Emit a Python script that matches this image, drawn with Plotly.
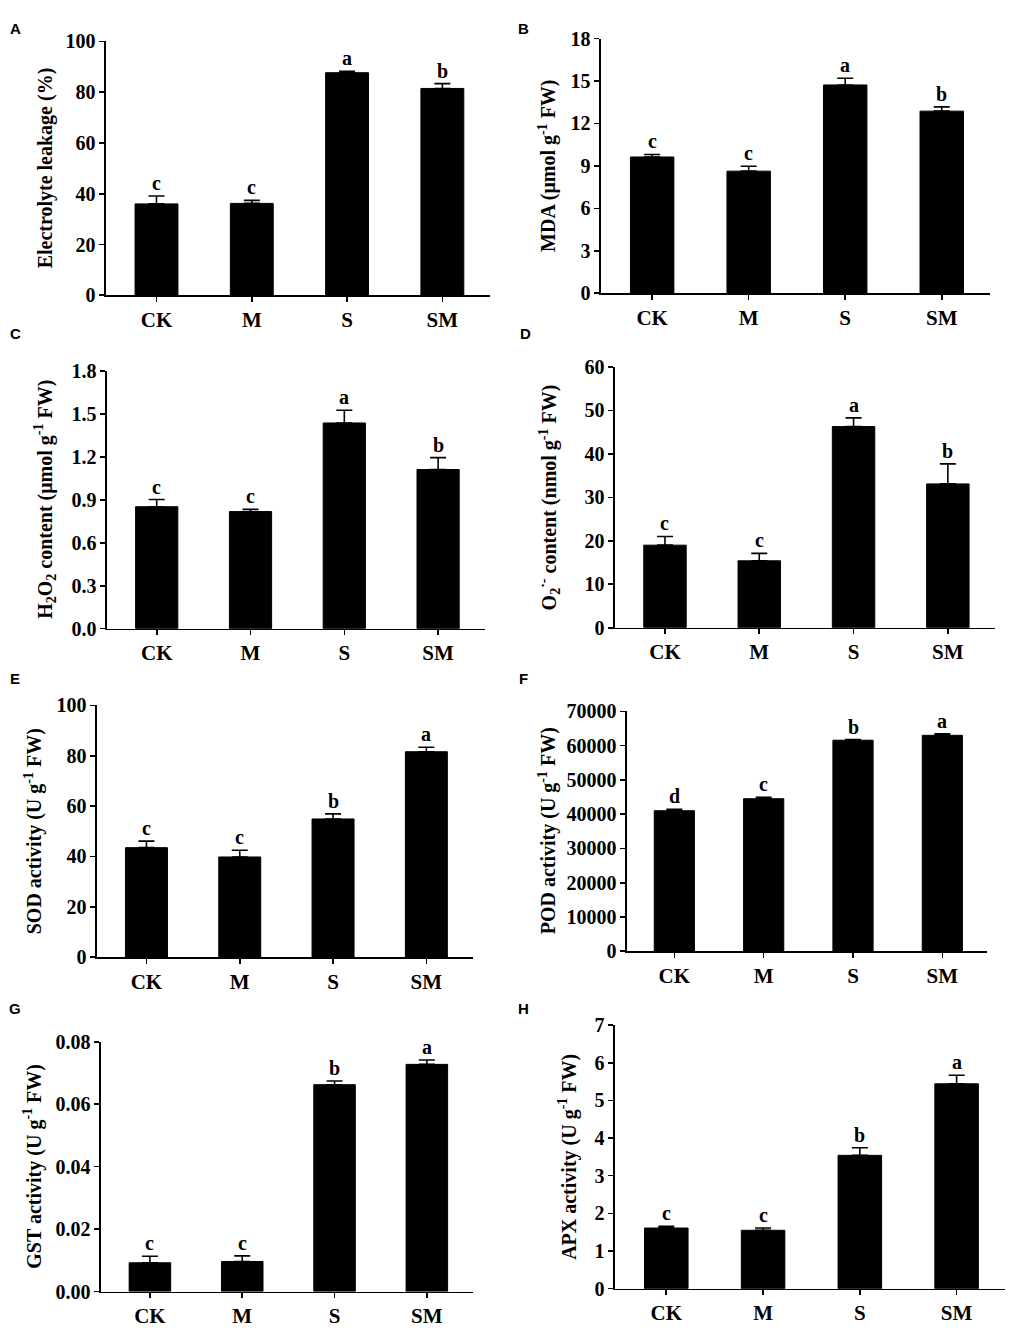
import plotly.graph_objects as go

# Traitements
categories = ["CK", "M", "S", "SM"]

# Valeurs (moyenne, erreur type, lettres)
electrolyte = [36.0, 36.2, 87.7, 81.5]
electrolyte_err = [3.1, 1.2, 0.6, 1.9]
electrolyte_let = ["c", "c", "a", "b"]

mda = [9.63, 8.63, 14.72, 12.87]
mda_err = [0.18, 0.35, 0.47, 0.30]
mda_let = ["c", "c", "a", "b"]

h2o2 = [0.852, 0.818, 1.437, 1.112]
h2o2_err = [0.050, 0.016, 0.089, 0.083]
h2o2_let = ["c", "c", "a", "b"]

o2 = [19.0, 15.4, 46.3, 33.1]
o2_err = [2.0, 1.7, 2.0, 4.6]
o2_let = ["c", "c", "a", "b"]

sod = [43.5, 39.8, 54.9, 81.6]
sod_err = [2.6, 2.7, 2.0, 1.8]
sod_let = ["c", "c", "b", "a"]

pod = [41000, 44500, 61570, 63000]
pod_err = [400, 400, 200, 450]
pod_let = ["d", "c", "b", "a"]

gst = [0.00923, 0.00965, 0.06626, 0.07277]
gst_err = [0.0021, 0.0018, 0.0012, 0.0014]
gst_let = ["c", "c", "b", "a"]

apx = [1.61, 1.55, 3.54, 5.44]
apx_err = [0.044, 0.06, 0.20, 0.227]
apx_let = ["c", "c", "b", "a"]

# Graduations
ticks_a = [0, 20, 40, 60, 80, 100]
ticks_b = [0, 3, 6, 9, 12, 15, 18]
ticks_c = [0.0, 0.3, 0.6, 0.9, 1.2, 1.5, 1.8]
ticks_d = [0, 10, 20, 30, 40, 50, 60]
ticks_e = [0, 20, 40, 60, 80, 100]
ticks_f = [0, 10000, 20000, 30000, 40000, 50000, 60000, 70000]
ticks_g = [0.00, 0.02, 0.04, 0.06, 0.08]
ticks_h = [0, 1, 2, 3, 4, 5, 6, 7]

W, H = 1011, 1339
SERIF = "Liberation Serif"
XFONT = dict(family=SERIF, size=21, color="black", weight="bold")
YFONT = dict(family=SERIF, size=20, color="black", weight="bold")

# (lettre, titre, valeurs, erreurs, lettres, ticks, format, x0, x1, ytop, ybas, x titre, x/y lettre)
panels = [
    ("A", "Electrolyte leakage (%)", electrolyte, electrolyte_err, electrolyte_let, ticks_a, "d",
     106, 490, 31, 289, 45, 15, 18),
    ("B", "MDA (μmol g<sup>-1</sup> FW)", mda, mda_err, mda_let, ticks_b, "d",
     601, 990, 28, 287, 548, 523, 18),
    ("C", "H<sub>2</sub>O<sub>2</sub> content (μmol g<sup>-1</sup> FW)", h2o2, h2o2_err, h2o2_let, ticks_c, ".1f",
     107, 485, 366, 628, 45, 15, 328),
    ("D", "O<sub>2</sub><sup>·-</sup> content (nmol g<sup>-1</sup> FW)", o2, o2_err, o2_let, ticks_d, "d",
     615, 995, 362, 627, 550, 525, 328),
    ("E", "SOD activity (U g<sup>-1</sup> FW)", sod, sod_err, sod_let, ticks_e, "d",
     97, 473, 706, 962, 33, 15, 679),
    ("F", "POD activity (U g<sup>-1</sup> FW)", pod, pod_err, pod_let, ticks_f, "d",
     627, 987, 712, 956, 547, 523, 679),
    ("G", "GST activity (U g<sup>-1</sup> FW)", gst, gst_err, gst_let, ticks_g, ".2f",
     101, 473, 1048, 1302, 33, 15, 1014),
    ("H", "APX activity (U g<sup>-1</sup> FW)", apx, apx_err, apx_let, ticks_h, "d",
     615, 1005, 1031, 1299, 568, 523, 1014),
]

fig = go.Figure()
annotations = []

for i, (lab, title, vals, errs, lets, ticks, fmt, x0, x1, yt, yb, tx, lx, ly) in enumerate(panels):
    n = "" if i == 0 else str(i + 1)
    xa, ya = "x" + n, "y" + n
    fig.add_trace(go.Bar(
        x=categories, y=vals, xaxis=xa, yaxis=ya, width=0.45,
        marker=dict(color="black", line=dict(color="black", width=1)),
        error_y=dict(type="data", symmetric=False, array=errs, arrayminus=[0] * 4,
                     color="black", thickness=1.6, width=8),
        showlegend=False, hoverinfo="skip",
    ))
    fig.layout["xaxis" + n] = dict(
        domain=[x0 / W, x1 / W], anchor=ya, range=[-0.53, 3.5],
        showline=True, linecolor="black", linewidth=1.6,
        ticks="outside", ticklen=5, tickwidth=1.6, tickcolor="black",
        tickfont=XFONT, showgrid=False, zeroline=False,
    )
    fig.layout["yaxis" + n] = dict(
        domain=[1 - yb / H, 1 - yt / H], anchor=xa, range=[0, ticks[-1]],
        tickvals=ticks, tickformat=fmt,
        showline=True, linecolor="black", linewidth=1.6,
        ticks="outside", ticklen=5, tickwidth=1.6, tickcolor="black",
        tickfont=YFONT, showgrid=False, zeroline=False,
    )
    # lettres de significativité
    for c, v, e, t in zip(categories, vals, errs, lets):
        annotations.append(dict(
            x=c, y=v + e, xref=xa, yref=ya, text=t, showarrow=False,
            yanchor="bottom", font=YFONT,
        ))
    # titre de l'axe y
    annotations.append(dict(
        x=tx / W, y=1 - (yt + yb) / 2 / H, xref="paper", yref="paper",
        text=title, textangle=-90, showarrow=False,
        xanchor="center", yanchor="middle",
        font=dict(family=SERIF, size=20, color="black", weight="bold"),
    ))
    # lettre du panneau
    annotations.append(dict(
        x=lx / W, y=1 - ly / H, xref="paper", yref="paper",
        text=lab, showarrow=False, xanchor="center", yanchor="middle",
        font=dict(family="Liberation Sans", size=15, color="black", weight="bold"),
    ))

fig.update_layout(
    width=W, height=H, margin=dict(l=0, r=0, t=0, b=0),
    paper_bgcolor="white", plot_bgcolor="white",
    font=dict(family=SERIF, color="black"),
    annotations=annotations,
)

fig.write_html(
    "out.html",
    config={"displayModeBar": False, "staticPlot": True},
    post_script="document.body.style.margin='0';document.documentElement.style.overflow='hidden';",
)
